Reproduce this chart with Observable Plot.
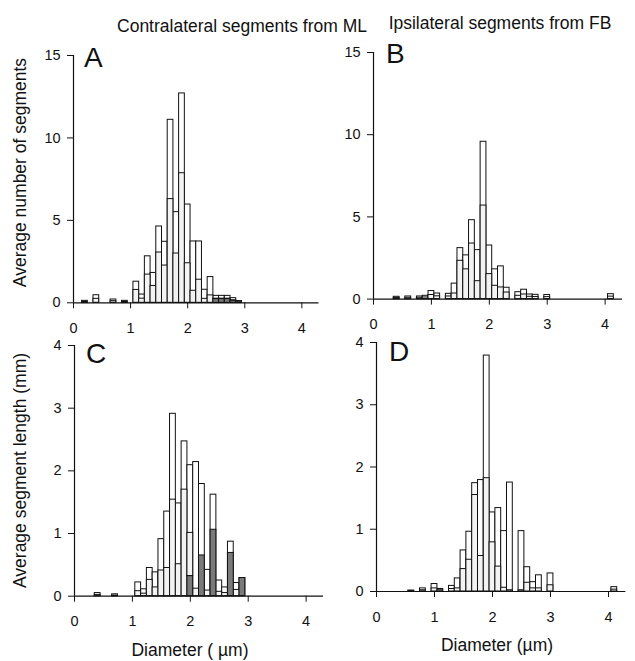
<!DOCTYPE html>
<html>
<head>
<meta charset="utf-8">
<script src="https://cdn.jsdelivr.net/npm/d3@7"></script>
<script src="https://cdn.jsdelivr.net/npm/@observablehq/plot@0.6"></script>
<style>
  html, body { margin: 0; padding: 0; background: #fff; }
  #fig { position: relative; width: 635px; height: 661px; overflow: hidden; font-family: "Liberation Sans", Arial, sans-serif; color: #111; }
  .abs { position: absolute; white-space: nowrap; }
  .title { font-size: 17.5px; }
  .ylab { font-size: 17.5px; transform-origin: center center; }
  .letter { font-size: 28px; line-height: 1; }
</style>
</head>
<body>
<div id="fig"></div>
<script>
// ---- Data (bin centres in µm, bin width 0.1) ----
// Panel A: contralateral, average number of segments
const aDiam  = [0.2, 0.4, 0.7, 0.9, 1.1, 1.2, 1.3, 1.4, 1.5, 1.6, 1.7, 1.8, 1.9, 2.0, 2.1, 2.2, 2.3, 2.4, 2.5, 2.6, 2.7, 2.8, 2.9];
const aTotal = [0.12, 0.46, 0.2, 0.12, 1.28, 0.5, 2.82, 1.81, 4.63, 3.7, 11.1, 5.5, 12.7, 5.96, 3.72, 3.72, 0.79, 1.56, 0.42, 0.42, 0.42, 0.28, 0.1];
const aLower = [0.06, 0.24, 0.1, 0.06, 0.78, 0.25, 1.71, 1.02, 3.05, 2.26, 6.29, 2.99, 7.86, 2.4, 0.73, 1.4, 0.24, 0.45, 0.25, 0.25, 0.25, 0.15, 0.1];
const aDark  = [0, 0, 0, 0, 0, 0, 0, 0, 0, 0, 0, 0, 0, 0, 0, 0, 0, 0, 0.22, 0.22, 0.22, 0.12, 0.08];

// Panel B: ipsilateral, average number of segments
const bDiam  = [0.4, 0.6, 0.8, 0.9, 1.0, 1.1, 1.3, 1.4, 1.5, 1.6, 1.7, 1.8, 1.9, 2.0, 2.1, 2.2, 2.3, 2.5, 2.6, 2.7, 2.8, 3.0, 4.1];
const bTotal = [0.14, 0.16, 0.16, 0.2, 0.49, 0.34, 0.32, 0.94, 3.1, 2.66, 4.8, 2.98, 9.57, 3.26, 1.81, 1.99, 0.69, 0.42, 0.57, 0.28, 0.26, 0.25, 0.3];
const bLower = [0.07, 0.08, 0.08, 0.1, 0.25, 0.17, 0.16, 0.34, 2.33, 1.81, 3.38, 1.09, 5.69, 1.52, 0.81, 0.71, 0.4, 0.2, 0.28, 0.14, 0.13, 0.12, 0.15];
const bDark  = bDiam.map(() => 0);

// Panel C: contralateral, average segment length (mm)
const cDiam  = [0.4, 0.7, 1.1, 1.2, 1.3, 1.4, 1.5, 1.6, 1.7, 1.8, 1.9, 2.0, 2.1, 2.2, 2.3, 2.4, 2.5, 2.6, 2.7, 2.8, 2.9];
const cTotal = [0.05, 0.03, 0.22, 0.11, 0.45, 0.38, 0.91, 1.35, 2.91, 1.48, 2.47, 2.09, 2.14, 1.79, 0.42, 1.62, 0.25, 0.14, 0.87, 0.21, 0.29];
const cLower = [0.02, 0.01, 0.08, 0.04, 0.26, 0.14, 0.41, 0.45, 1.54, 0.51, 1.7, 1.01, 0.12, 0.65, 0.09, 1.06, 0.07, 0.05, 0.69, 0.1, 0.29];
const cDark  = [0, 0, 0, 0, 0, 0, 0, 0, 0, 0, 0, 0.32, 0, 0.65, 0, 1.06, 0, 0, 0.69, 0, 0.29];

// Panel D: ipsilateral, average segment length (mm)
const dDiam  = [0.6, 0.8, 1.0, 1.1, 1.3, 1.4, 1.5, 1.6, 1.7, 1.8, 1.9, 2.0, 2.1, 2.2, 2.3, 2.5, 2.6, 2.7, 2.8, 3.0, 4.1];
const dTotal = [0.015, 0.05, 0.12, 0.04, 0.09, 0.21, 0.66, 0.96, 1.74, 1.79, 3.79, 1.27, 1.34, 0.97, 1.75, 0.97, 0.39, 0.15, 0.26, 0.29, 0.07];
const dLower = [0.007, 0.02, 0.05, 0.02, 0.04, 0.05, 0.36, 0.51, 1.55, 0.57, 1.82, 0.79, 0.4, 0.06, 0.02, 0.02, 0.14, 0.05, 0.05, 0.1, 0.03];
const dDark  = dDiam.map(() => 0);

const xTicks = [0, 1, 2, 3, 4];
const countTicks = [0, 5, 10, 15];
const lengthTicks = [0, 1, 2, 3, 4];

const titles = ["Contralateral segments from ML", "Ipsilateral segments from FB"];
const yTitles = ["Average number of segments", "Average segment length (mm)"];
const xTitles = ["Diameter ( µm)", "Diameter (µm)"];
const letters = ["A", "B", "C", "D"];

const binHalf = 0.05;
const FONT = '"Liberation Sans", Arial, sans-serif';

function rowsOf(diam, total, lower, dark) {
  return diam.map((d, i) => ({d, total: total[i], lower: lower[i], dark: dark[i]}));
}

function panel(cfg) {
  const ml = 60, mr = 12, mt = 12, mb = 40;
  const rows = rowsOf(cfg.diam, cfg.total, cfg.lower, cfg.dark);
  const x1 = r => r.d - binHalf, x2 = r => r.d + binHalf;
  const svg = Plot.plot({
    width: cfg.w + ml + mr,
    height: cfg.h + mt + mb,
    marginLeft: ml, marginRight: mr, marginTop: mt, marginBottom: mb,
    style: {fontFamily: FONT, fontSize: "14.5px", color: "#111", background: "transparent", overflow: "visible"},
    x: {domain: [0, 4.3]},
    y: {domain: cfg.yDomain},
    marks: [
      Plot.rect(rows, {x1, x2, y1: 0, y2: "total", fill: "white", stroke: "#111", strokeWidth: 1, inset: 0}),
      Plot.rect(rows.filter(r => r.lower > r.dark), {x1, x2, y1: "dark", y2: "lower", fill: "#f3f3f3", stroke: "#111", strokeWidth: 1, inset: 0}),
      Plot.rect(rows.filter(r => r.dark > 0), {x1, x2, y1: 0, y2: "dark", fill: "#7a7a7a", stroke: "#111", strokeWidth: 1, inset: 0}),
      Plot.ruleY([0], {stroke: "#111", strokeWidth: 1.2}),
      Plot.ruleX([0], {stroke: "#111", strokeWidth: 1.2}),
      Plot.axisX({ticks: xTicks, tickFormat: d3.format("d"), tickSize: 6, tickPadding: 14, label: null, fontSize: 14.5}),
      Plot.axisY({ticks: cfg.yTicks, tickFormat: d3.format("d"), tickSize: 6, tickPadding: 7, label: null, fontSize: 14.5})
    ]
  });
  svg.style.position = "absolute";
  svg.style.left = (cfg.left - ml) + "px";
  svg.style.top = (cfg.top - mt) + "px";
  return svg;
}

const fig = document.getElementById("fig");

fig.appendChild(panel({left: 72.7, top: 55, w: 245.5, h: 247.3, yDomain: [0, 15], yTicks: countTicks,
  diam: aDiam, total: aTotal, lower: aLower, dark: aDark}));
fig.appendChild(panel({left: 373.3, top: 51.7, w: 249, h: 246.6, yDomain: [0, 15], yTicks: countTicks,
  diam: bDiam, total: bTotal, lower: bLower, dark: bDark}));
fig.appendChild(panel({left: 73.8, top: 345, w: 249, h: 250.7, yDomain: [0, 4], yTicks: lengthTicks,
  diam: cDiam, total: cTotal, lower: cLower, dark: cDark}));
fig.appendChild(panel({left: 376.3, top: 341.7, w: 249.4, h: 249, yDomain: [0, 4], yTicks: lengthTicks,
  diam: dDiam, total: dTotal, lower: dLower, dark: dDark}));

function addText(txt, cls, x, y, anchor, rotate) {
  const el = document.createElement("div");
  el.className = "abs " + cls;
  el.textContent = txt;
  fig.appendChild(el);
  const r = el.getBoundingClientRect();
  let left = x, top = y;
  if (anchor === "center") { left = x - r.width / 2; top = y - r.height / 2; }
  el.style.left = left + "px";
  el.style.top = top + "px";
  if (rotate) el.style.transform = "rotate(-90deg)";
  return el;
}

addText(titles[0], "title", 242, 26, "center");
addText(titles[1], "title", 500, 23, "center");
addText(yTitles[0], "ylab", 21, 172, "center", true);
addText(yTitles[1], "ylab", 21, 470, "center", true);
addText(xTitles[0], "title", 190, 650, "center");
addText(xTitles[1], "title", 497, 645, "center");
addText(letters[0], "letter", 84, 44, "tl");
addText(letters[1], "letter", 386, 40, "tl");
addText(letters[2], "letter", 86, 340, "tl");
addText(letters[3], "letter", 389, 338, "tl");
</script>
</body>
</html>
